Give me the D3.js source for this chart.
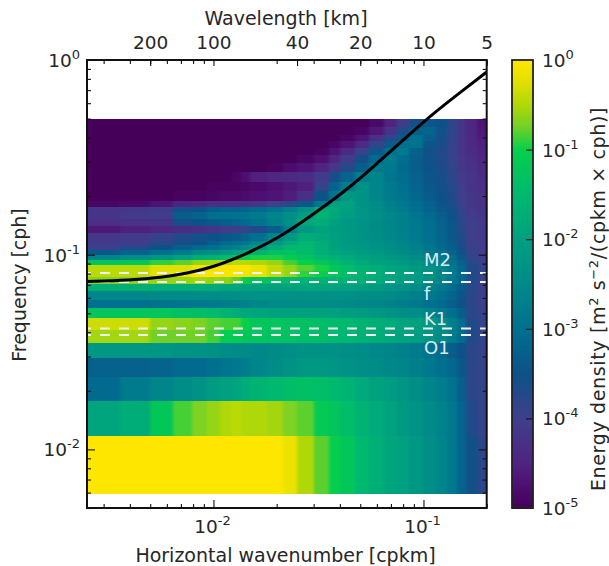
<!DOCTYPE html>
<html><head><meta charset="utf-8">
<script src="https://cdn.jsdelivr.net/npm/d3@7/dist/d3.min.js"></script>
<style>
html,body{margin:0;padding:0;background:#fff}
svg{display:block}
text{font-family:"DejaVu Sans",sans-serif;fill:#262626}
</style></head><body><div id="c"></div>
<script>
const wavenumberEdges=[.0025,.0036,.005,.0064,.0079,.0093,.0107,.0122,.0136,.015,.0179,.0214,.025,.03,.0355,.04,.047,.055,.065,.075,.085,.1,.115,.13,.145,.16,.18,.2];
const frequencyEdges=[.00595,.0119,.01786,.0238,.02976,.0357,.04167,.0476,.0536,.0595,.0655,.0714,.0774,.0833,.0893,.0952,.1012,.1071,.1131,.119,.131,.1429,.1548,.1667,.1786,.1905,.2143,.2381,.2679,.2976,.3274,.3571,.3869,.4167,.4583,.5];
// log10 energy density, one row per frequency band (low to high), one value per wavenumber band
const logEnergy=[
[0,0,0,0,0,0,0,0,0,0,-.02,-.15,-.5,-.8,-1.05,-1.2,-1.5,-1.7,-1.9,-2,-2.2,-2.4,-2.6,-2.85,-3.2,-3.55,-3.8],
[-1.9,-1.75,-1.2,-.85,-.7,-.6,-.5,-.45,-.5,-.5,-.55,-.7,-.8,-1.15,-1.25,-1.4,-1.6,-1.8,-1.95,-2.15,-2.3,-2.5,-2.65,-2.85,-3.2,-3.7,-3.9],
[-3.1,-2.8,-2.6,-2.45,-2.3,-2.1,-2,-1.9,-1.75,-1.6,-1.5,-1.4,-1.35,-1.4,-1.5,-1.6,-1.8,-1.95,-2.1,-2.25,-2.4,-2.6,-2.75,-2.95,-3.3,-3.8,-3.9],
[-3.25,-3.25,-3.2,-3.1,-3.1,-3,-2.9,-2.85,-2.75,-2.6,-2.45,-2.3,-2.2,-2.2,-2.25,-2.3,-2.4,-2.45,-2.55,-2.6,-2.7,-2.85,-3,-3.15,-3.4,-3.8,-3.9],
[-2.2,-2.2,-2.25,-2.3,-2.3,-2.35,-2.45,-2.5,-2.5,-2.55,-2.5,-2.4,-2.35,-2.35,-2.35,-2.4,-2.45,-2.55,-2.6,-2.7,-2.8,-2.95,-3.1,-3.3,-3.5,-3.8,-3.9],
[-.55,-.55,-.75,-.75,-.75,-.85,-1.1,-1.15,-1.2,-1.25,-1.3,-1.3,-1.35,-1.4,-1.5,-1.55,-1.65,-1.75,-1.85,-1.95,-2.05,-2.25,-2.5,-2.75,-3.1,-3.7,-3.85],
[-.35,-.35,-.6,-.65,-.7,-.8,-.85,-.85,-1,-1.2,-1.25,-1.3,-1.35,-1.4,-1.45,-1.5,-1.6,-1.7,-1.8,-1.9,-2,-2.2,-2.45,-2.7,-3.05,-3.7,-3.85],
[-1.25,-1.25,-1.25,-1.35,-1.4,-1.45,-1.6,-1.75,-1.85,-1.9,-1.95,-1.95,-1.95,-1.95,-2,-2.05,-2.1,-2.2,-2.3,-2.4,-2.45,-2.6,-2.8,-3,-3.3,-3.8,-3.9],
[-3,-3,-2.95,-2.9,-2.85,-2.8,-2.75,-2.7,-2.65,-2.55,-2.5,-2.5,-2.5,-2.5,-2.5,-2.5,-2.55,-2.6,-2.65,-2.75,-2.85,-3,-3.1,-3.3,-3.5,-3.8,-3.95],
[-2.55,-2.55,-2.5,-2.5,-2.45,-2.45,-2.4,-2.4,-2.35,-2.3,-2.3,-2.3,-2.3,-2.3,-2.3,-2.35,-2.4,-2.45,-2.5,-2.6,-2.7,-2.85,-3,-3.2,-3.45,-3.8,-3.95],
[-1.7,-1.7,-1.75,-1.75,-1.75,-1.8,-1.85,-1.9,-1.95,-1.95,-1.95,-1.95,-1.9,-1.9,-1.95,-2,-2.05,-2.15,-2.25,-2.3,-2.45,-2.65,-2.85,-3.05,-3.35,-3.75,-3.95],
[-.65,-.65,-.6,-.6,-.55,-.6,-.65,-.8,-1.05,-1.3,-1.4,-1.5,-1.6,-1.6,-1.6,-1.65,-1.7,-1.8,-1.9,-2,-2.15,-2.35,-2.6,-2.85,-3.15,-3.7,-3.9],
[-.45,-.45,-.2,-.15,0,0,-.05,-.05,-.1,-.2,-.4,-.6,-.9,-1.05,-1.2,-1.4,-1.6,-1.75,-1.85,-1.95,-2.1,-2.3,-2.55,-2.8,-3.1,-3.7,-3.85],
[-.45,-.45,-.25,-.25,-.1,-.1,-.05,-.05,-.05,-.15,-.4,-.6,-.8,-.95,-1.2,-1.4,-1.6,-1.75,-1.9,-2,-2.15,-2.35,-2.6,-2.85,-3.15,-3.7,-3.9],
[-1.25,-1.2,-.9,-.8,-.6,-.55,-.5,-.45,-.45,-.5,-.6,-.85,-1,-1.2,-1.4,-1.6,-1.8,-1.95,-2.05,-2.15,-2.3,-2.5,-2.7,-2.95,-3.25,-3.75,-3.95],
[-2.6,-2.4,-2.2,-2,-1.7,-1.6,-1.4,-1.2,-1.1,-.95,-.95,-1.1,-1.3,-1.5,-1.65,-1.8,-1.95,-2.05,-2.2,-2.3,-2.45,-2.65,-2.85,-3.05,-3.4,-3.85,-4],
[-3.4,-3.2,-3,-2.8,-2.5,-2.4,-2.2,-2,-1.85,-1.6,-1.35,-1.3,-1.45,-1.7,-1.85,-2,-2.1,-2.2,-2.35,-2.45,-2.6,-2.8,-3,-3.2,-3.55,-3.9,-4.05],
[-3.95,-3.75,-3.5,-3.3,-3.1,-3,-2.8,-2.7,-2.5,-2.2,-1.8,-1.5,-1.45,-1.7,-1.95,-2.1,-2.2,-2.3,-2.45,-2.55,-2.7,-2.9,-3.1,-3.3,-3.6,-3.95,-4.05],
[-4.1,-4.05,-3.8,-3.6,-3.5,-3.3,-3.1,-3,-2.9,-2.6,-2.2,-1.8,-1.55,-1.75,-1.95,-2.15,-2.25,-2.35,-2.5,-2.6,-2.75,-2.95,-3.15,-3.35,-3.65,-3.95,-4.05],
[-4.15,-4.1,-3.9,-3.7,-3.6,-3.5,-3.4,-3.35,-3.2,-3,-2.6,-2.2,-1.75,-1.85,-2,-2.15,-2.3,-2.4,-2.55,-2.65,-2.8,-3,-3.2,-3.4,-3.7,-4,-4.1],
[-4.65,-4.55,-4.45,-4.35,-4.3,-4.2,-4.1,-4.05,-3.9,-3.7,-3.3,-2.7,-2.2,-1.95,-2.05,-2.2,-2.3,-2.45,-2.6,-2.7,-2.85,-3,-3.2,-3.4,-3.75,-4,-4.1],
[-4.3,-4.25,-4.2,-3.6,-3.5,-3.4,-3.3,-3.2,-3.1,-2.95,-2.7,-2.35,-1.85,-1.75,-2,-2.2,-2.3,-2.45,-2.6,-2.7,-2.85,-3.05,-3.25,-3.45,-3.8,-4,-4.1],
[-4.2,-4.1,-4.05,-3.3,-3.2,-3,-3,-2.95,-2.9,-2.8,-2.6,-2.4,-2.1,-1.6,-1.85,-2.05,-2.25,-2.4,-2.55,-2.7,-2.9,-3.1,-3.3,-3.5,-3.85,-4.05,-4.15],
[-4.2,-4.15,-4.1,-3.6,-3.5,-3.3,-3.25,-3.25,-3.2,-3.1,-2.95,-2.7,-2.35,-1.75,-1.75,-2,-2.25,-2.45,-2.65,-2.8,-3,-3.2,-3.4,-3.6,-3.9,-4.1,-4.2],
[-4.9,-4.85,-4.7,-4.5,-4.45,-4.3,-4.3,-4.3,-4.3,-4.2,-4,-3.8,-3.4,-2.8,-2,-1.95,-2.3,-2.5,-2.7,-2.85,-3.05,-3.25,-3.45,-3.65,-3.95,-4.15,-4.25],
[-5,-5,-5,-4.95,-4.95,-4.9,-4.85,-4.85,-4.8,-4.75,-4.7,-4.6,-4.3,-3.5,-2.9,-2.2,-2.3,-2.6,-2.8,-2.95,-3.15,-3.35,-3.5,-3.7,-4,-4.15,-4.25],
[-5,-5,-5,-5,-5,-4.95,-4.95,-4.95,-4.9,-4.85,-4.75,-4.65,-4.55,-3.9,-3.2,-2.75,-2.3,-2.6,-2.85,-3,-3.2,-3.4,-3.55,-3.75,-4.05,-4.2,-4.3],
[-5,-5,-5,-5,-5,-5,-5,-4.9,-4.75,-4.55,-4.45,-4.4,-4.35,-4.1,-3.6,-3.2,-2.75,-2.6,-2.9,-3.05,-3.25,-3.45,-3.6,-3.8,-4.1,-4.2,-4.35],
[-5,-5,-5,-5,-5,-5,-5,-5,-5,-5,-4.95,-4.8,-4.7,-4.5,-4.15,-3.75,-3.3,-2.85,-2.85,-3.1,-3.3,-3.5,-3.65,-3.85,-4.15,-4.25,-4.4],
[-5,-5,-5,-5,-5,-5,-5,-5,-5,-5,-5,-5,-4.9,-4.75,-4.45,-4.1,-3.6,-3.1,-2.75,-3.05,-3.3,-3.55,-3.7,-3.9,-4.15,-4.3,-4.45],
[-5,-5,-5,-5,-5,-5,-5,-5,-5,-5,-5,-5,-5,-4.95,-4.7,-4.4,-3.95,-3.4,-3,-2.8,-3.25,-3.55,-3.7,-3.9,-4.2,-4.35,-4.5],
[-5,-5,-5,-5,-5,-5,-5,-5,-5,-5,-5,-5,-5,-5,-4.9,-4.7,-4.4,-3.85,-3.35,-3,-2.95,-3.45,-3.65,-3.9,-4.2,-4.4,-4.55],
[-5,-5,-5,-5,-5,-5,-5,-5,-5,-5,-5,-5,-5,-5,-5,-4.9,-4.7,-4.3,-3.8,-3.35,-2.95,-3.3,-3.6,-3.85,-4.2,-4.4,-4.6],
[-5,-5,-5,-5,-5,-5,-5,-5,-5,-5,-5,-5,-5,-5,-5,-5,-4.9,-4.65,-4.2,-3.7,-3.3,-3.2,-3.55,-3.85,-4.2,-4.45,-4.65],
[-5,-5,-5,-5,-5,-5,-5,-5,-5,-5,-5,-5,-5,-5,-5,-5,-5,-4.85,-4.5,-4.05,-3.6,-3.45,-3.5,-3.8,-4.2,-4.45,-4.7]
];
const curveWavenumber=[.0025,.00398,.00584,.00744,.00989,.01436,.0206,.0296,.0444,.0617,.0886,.1092,.1484,.2];
const curveFrequency=[.0728,.0737,.0768,.0801,.0859,.1008,.1225,.16,.22,.3028,.4269,.5218,.6768,.868];
const tideNames=["M2","f","K1","O1"];
const tideFrequency=[.0805,.0724,.0418,.0387];
const tideLabelFrequency=[.0875,.0585,.0435,.0309];
const wavelengthTicks=[200,100,40,20,10,5];
const colorStops=[-5,-4.75,-4.5,-4,-3.5,-3,-2.5,-2,-1.5,-1,-.75,-.5,-.25,0];
const colorValues=["#45005a","#4d0f72","#4f2480","#3f3f8c","#0c5288","#007090","#008a88","#00a080","#00b870","#05d04a","#70d028","#b0d808","#e0e000","#ffe600"];

const W=609,H=566,TICK=18.5,SUP=13,LABEL=19;
const x=d3.scaleLog().domain([.0025,.2]).range([87,486.7]);
const y=d3.scaleLog().domain([.005,1]).range([508,60]);
const color=d3.scaleLinear().domain(colorStops).range(colorValues).clamp(true);
const cbY=d3.scaleLog().domain([1e-5,1]).range([508,60]);

const svg=d3.select("#c").append("svg").attr("width",W).attr("height",H);
const defs=svg.append("defs");
const blur=defs.append("filter").attr("id","soft").attr("x","-2%").attr("y","-2%").attr("width","104%").attr("height","104%")
  .attr("color-interpolation-filters","sRGB");
blur.append("feGaussianBlur").attr("stdDeviation","1.6 0.45");
defs.append("clipPath").attr("id","plot").append("rect").attr("x",87).attr("y",60).attr("width",399.7).attr("height",448);

// an unfiltered copy sits under the softened one so the plot edges stay solid
const heatClip=svg.append("g").attr("clip-path","url(#plot)");
const heatBase=heatClip.append("g").attr("shape-rendering","crispEdges");
const heat=heatClip.append("g").attr("filter","url(#soft)").attr("shape-rendering","crispEdges");
[heatBase,heat].forEach(layer=>logEnergy.forEach((row,i)=>{
  layer.selectAll(null).data(row).join("rect")
    .attr("x",(d,j)=>x(wavenumberEdges[j]))
    .attr("width",(d,j)=>x(wavenumberEdges[j+1])-x(wavenumberEdges[j])+1)
    .attr("y",y(frequencyEdges[i+1]))
    .attr("height",y(frequencyEdges[i])-y(frequencyEdges[i+1])+1)
    .attr("fill",d=>color(d));
}));

// dashed tidal lines
svg.append("g").selectAll("line").data(tideFrequency).join("line")
  .attr("x1",x.range()[0]).attr("x2",x.range()[1]).attr("y1",d=>y(d)).attr("y2",d=>y(d))
  .attr("stroke","#eef2f2").attr("stroke-width",1.9).attr("stroke-dasharray","10 9").attr("stroke-dashoffset",6);

// dispersion curve
const line=d3.line().x(d=>x(d[0])).y(d=>y(d[1])).curve(d3.curveBasis);
svg.append("path").datum(curveWavenumber.map((k,i)=>[k,curveFrequency[i]])).attr("d",line)
  .attr("fill","none").attr("stroke","#000").attr("stroke-width",3).attr("clip-path","url(#plot)");

// tide labels
svg.append("g").selectAll("text").data(tideNames).join("text")
  .attr("x",424).attr("y",(d,i)=>y(tideLabelFrequency[i])).text(d=>d)
  .style("fill","#dfe8ee").attr("font-size",18);

function sup(sel,exp){
  sel.text(null);
  sel.append("tspan").text("10");
  sel.append("tspan").attr("dy",-8).attr("font-size",SUP).text(exp);
}
const xMinor=[.001,.01,.1].flatMap(d=>[2,3,4,5,6,7,8,9].map(m=>d*m)).filter(v=>v>=.0025&&v<=.2);
const yMinor=[.001,.01,.1].flatMap(d=>[2,3,4,5,6,7,8,9].map(m=>d*m)).filter(v=>v>=.005&&v<=1);

function styleAxis(g){g.select(".domain").remove();g.selectAll("line").attr("stroke","#111").attr("stroke-width",1.1);g.selectAll("text").attr("font-size",TICK).style("fill","#262626")}

// bottom
svg.append("g").attr("transform","translate(0,508)").call(d3.axisBottom(x).tickValues(xMinor).tickSize(-4).tickFormat("")).call(styleAxis);
svg.append("g").attr("transform","translate(0,508)").call(d3.axisBottom(x).tickValues([.01,.1]).tickSize(-8).tickFormat("")).call(styleAxis);
svg.append("g").selectAll("text").data([.01,.1]).join("text").attr("x",d=>x(d)-1).attr("y",533).attr("text-anchor","middle").attr("font-size",TICK)
  .each(function(d){sup(d3.select(this),d==.01?"-2":"-1")});
// top
svg.append("g").attr("transform","translate(0,60)").call(d3.axisTop(x).tickValues(xMinor).tickSize(-4).tickFormat("")).call(styleAxis);
svg.append("g").attr("transform","translate(0,60)").call(d3.axisTop(x).tickValues(wavelengthTicks.map(v=>1/v)).tickSize(-6).tickPadding(11).tickFormat(v=>Math.round(1/v))).call(styleAxis);
// left & right
[[87,d3.axisLeft],[486.7,d3.axisRight]].forEach(([px,ax])=>{
  svg.append("g").attr("transform",`translate(${px},0)`).call(ax(y).tickValues(yMinor).tickSize(-4).tickFormat("")).call(styleAxis);
  svg.append("g").attr("transform",`translate(${px},0)`).call(ax(y).tickValues([.01,.1,1]).tickSize(-8).tickFormat("")).call(styleAxis);
});
svg.append("g").selectAll("text").data([1,.1,.01]).join("text").attr("x",80).attr("y",d=>y(d)+7).attr("text-anchor","end").attr("font-size",TICK)
  .each(function(d){sup(d3.select(this),d==1?"0":d==.1?"-1":"-2")});

// spines
svg.append("rect").attr("x",87).attr("y",60).attr("width",399.7).attr("height",448).attr("fill","none").attr("stroke","#111").attr("stroke-width",2);

// colorbar
const cbStrip=d3.range(-5,0,.02);
svg.append("g").attr("shape-rendering","crispEdges").selectAll("rect").data(cbStrip).join("rect")
  .attr("x",512).attr("width",21)
  .attr("y",d=>cbY(Math.pow(10,d+.02))).attr("height",d=>cbY(Math.pow(10,d))-cbY(Math.pow(10,d+.02))+1)
  .attr("fill",d=>color(d));
svg.append("g").attr("transform","translate(533,0)").call(d3.axisRight(cbY).tickValues([1e-4,1e-3,1e-2,1e-1]).tickSize(-7).tickFormat("")).call(styleAxis);
svg.append("rect").attr("x",512).attr("y",60).attr("width",21).attr("height",448).attr("fill","none").attr("stroke","#222").attr("stroke-width",1.8);
svg.append("g").selectAll("text").data([0,-1,-2,-3,-4,-5]).join("text").attr("x",542).attr("y",d=>cbY(Math.pow(10,d))+7).attr("font-size",TICK)
  .each(function(d){sup(d3.select(this),String(d))});

// titles
svg.append("text").attr("x",286).attr("y",25).attr("text-anchor","middle").attr("font-size",LABEL).text("Wavelength [km]");
svg.append("text").attr("x",285.5).attr("y",562).attr("text-anchor","middle").attr("font-size",LABEL).text("Horizontal wavenumber [cpkm]");
svg.append("text").attr("transform","translate(26,285) rotate(-90)").attr("text-anchor","middle").attr("font-size",LABEL).text("Frequency [cph]");
const yl=svg.append("text").attr("transform","translate(605,299) rotate(-90)").attr("text-anchor","middle").attr("font-size",LABEL).attr("letter-spacing",.65);
yl.append("tspan").text("Energy density [m");
yl.append("tspan").attr("dy",-7).attr("font-size",SUP).text("2");
yl.append("tspan").attr("dy",7).text(" s");
yl.append("tspan").attr("dy",-7).attr("font-size",SUP).text("−2");
yl.append("tspan").attr("dy",7).text("/(cpkm × cph)]");
</script></body></html>
